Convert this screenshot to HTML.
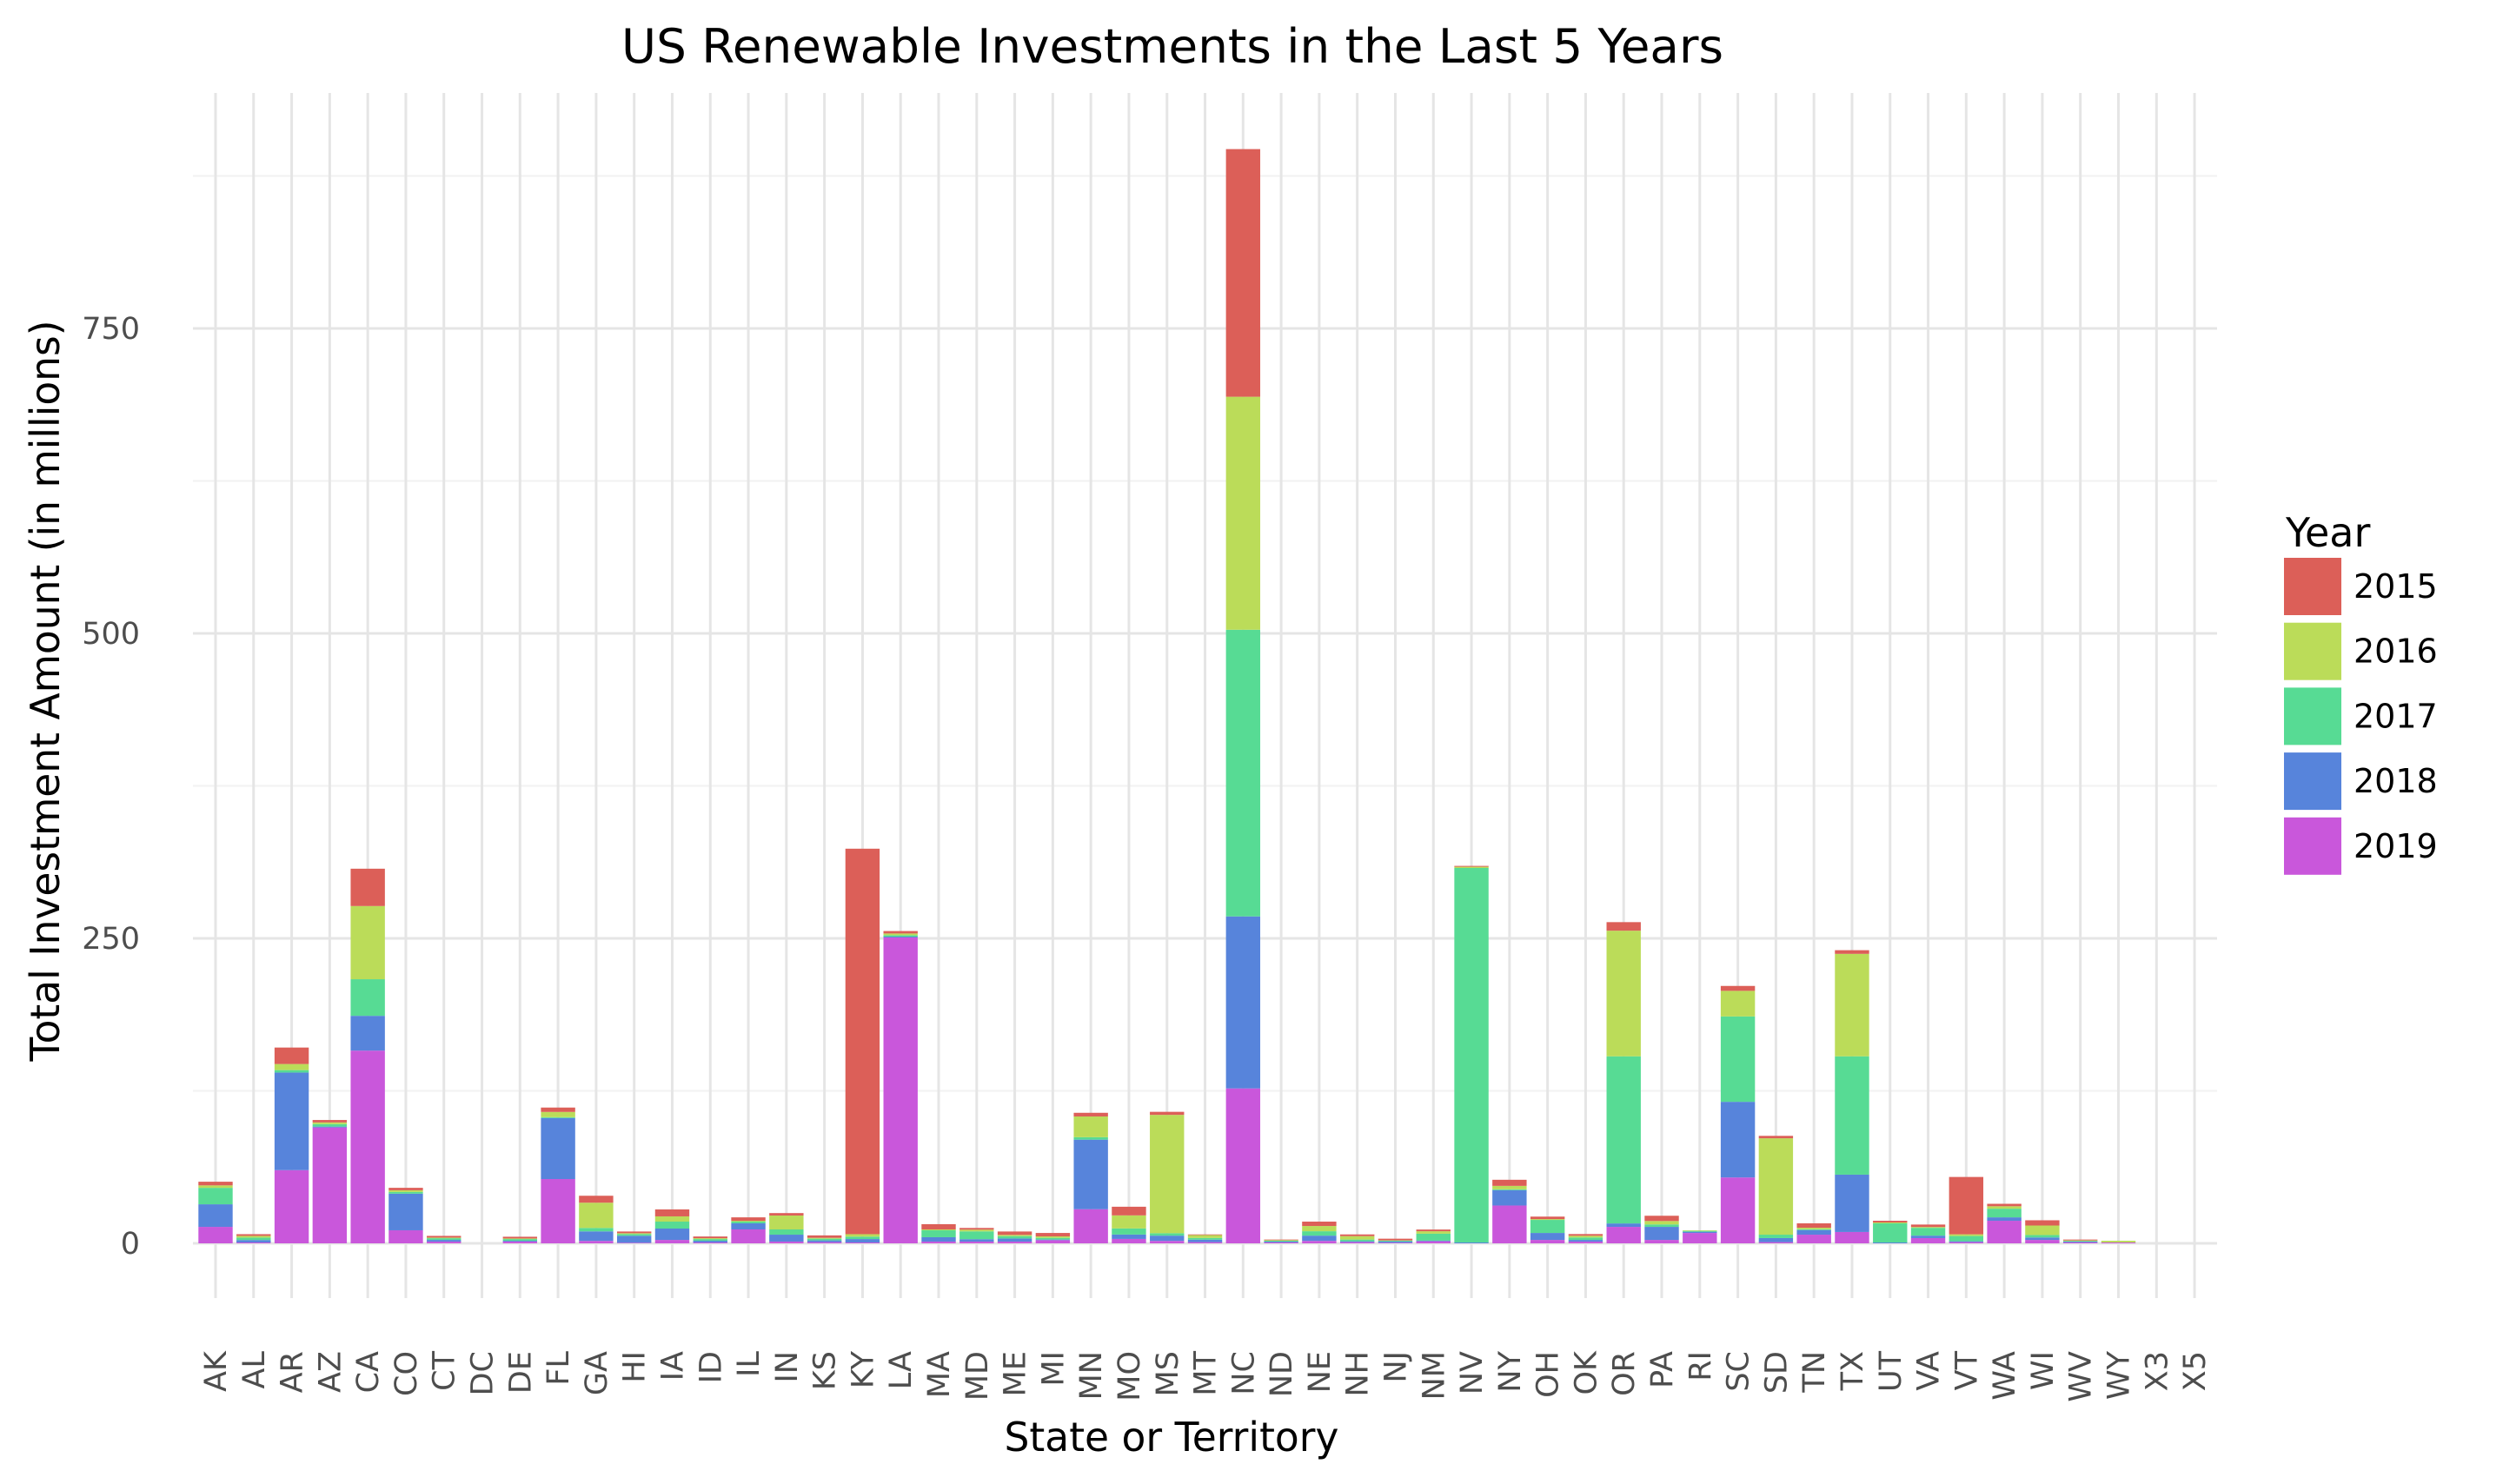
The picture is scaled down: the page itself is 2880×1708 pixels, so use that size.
<!DOCTYPE html>
<html><head><meta charset="utf-8"><style>
html,body{margin:0;padding:0;background:#fff}
svg{display:block;font-family:"DejaVu Sans","Liberation Sans",sans-serif}
</style></head><body>
<svg id="chart" width="2880" height="1708" viewBox="0 0 2880 1708" xmlns="http://www.w3.org/2000/svg">
<rect width="2880" height="1708" fill="#fff"/>
<g id="grid"></g>
<g id="bars"></g>
<g id="xticks"></g>
<g id="yticks"></g>
<text x="1349" y="72" font-size="54" textLength="1268" lengthAdjust="spacingAndGlyphs" text-anchor="middle" fill="#000">US Renewable Investments in the Last 5 Years</text>
<text x="1348" y="1670" font-size="46" textLength="385" lengthAdjust="spacingAndGlyphs" text-anchor="middle" fill="#000">State or Territory</text>
<text transform="translate(68,795) rotate(-90)" font-size="46" textLength="853" lengthAdjust="spacingAndGlyphs" text-anchor="middle" fill="#000">Total Investment Amount (in millions)</text>
<g id="legend">
<text x="2630" y="629" font-size="46" fill="#000">Year</text>
</g>
</svg>
<script>
const categories = ["AK","AL","AR","AZ","CA","CO","CT","DC","DE","FL","GA","HI","IA","ID","IL","IN","KS","KY","LA","MA","MD","ME","MI","MN","MO","MS","MT","NC","ND","NE","NH","NJ","NM","NV","NY","OH","OK","OR","PA","RI","SC","SD","TN","TX","UT","VA","VT","WA","WI","WV","WY","X3","X5"];
const years = ["2015","2016","2017","2018","2019"];
const colors = ["#DC5F58","#BBDC59","#57DB94","#5784DB","#C957DB"];
const v2019 = [13.5,0.7,60,95,158,10.7,1.4,0,1.4,52.7,2,0.5,2.8,0.7,11.4,1.4,1,0.7,250.7,1.4,1.4,1.4,2.6,28,3.6,2,1,127,0.7,2,1,0.5,1.7,0,31,2.8,1.4,13.5,2.8,8.5,54,1,7.1,9.3,0,4.3,1,18.5,2.8,0.7,0.7,0,0];
const v2018 = [18.5,2,80,0.7,28.5,30,1.4,0,0.7,50,7.8,5.7,9.3,1.4,5,5.7,1.4,2.8,0.7,3.6,2,2.6,0.5,57,3.6,4.3,2,141,0.7,4.3,0.7,1,0.5,0.7,12.6,5.7,1.4,2.8,10.7,1,62,3.3,3.8,47,0.7,2,0.7,2.8,2,0.7,0,0,0];
const v2017 = [13.5,2,2,2,30,1.4,1.4,0,1.4,0.7,2.8,1.4,5.7,1.4,1.4,4.3,1.4,2,1.2,5.7,6.4,1.9,1.4,2,5,2,1.4,235,0.7,3.6,1.4,0.7,5.7,307,0.7,10.7,2,137,2,0.7,70,2.8,0.7,97,15.7,6.4,4.3,7.1,2,0.5,0,0,0];
const v2016 = [2,1.4,5,1.4,60,1.4,0.5,0,0.5,4.3,20.7,0.7,4.3,0.7,0.7,11.4,0.7,2,1.4,0.7,1.4,1,1.2,17,10.7,97,2.4,191,0.5,4.3,2.8,0.2,2,1,2.8,0.7,1.4,103,2.8,0.5,21,79,1.2,84,0.7,0.7,1.4,2,7.8,0.5,1.4,0,0];
const v2015 = [3,1.4,13.5,2,30.6,2,1.4,0,1.4,3.6,5.7,1.4,5.7,1.4,2.8,2,2,316,2,4.3,1.4,2.8,2.8,3,7.1,2.5,0.5,203,0.5,3.6,1.4,1.4,1.4,0.7,5,2,1.4,7,4.3,0,4,2,3.6,3,1.4,2,47,2,4.3,0.7,0,0,0];
const yTicks = [0,250,500,750];
const yMinor = [125,375,625,875];

const NS = "http://www.w3.org/2000/svg";
const x0 = 248, step = 43.79, barW = 39.4;
const panel = {left:222, right:2551, top:107, bottom:1494};
const yZero = 1431, pxPerUnit = 1.404;
function xScale(i){ return x0 + i*step; }
function yScale(v){ return yZero - v*pxPerUnit; }
function mk(tag, attrs){ const e=document.createElementNS(NS,tag); for(const k in attrs) e.setAttribute(k,attrs[k]); return e; }

const grid = document.getElementById('grid');
yMinor.forEach(t=>{
  const l = mk('line',{x1:panel.left,x2:panel.right,y1:yScale(t),y2:yScale(t),stroke:'#F2F2F2','stroke-width':2});
  
  
  grid.appendChild(l);
});
yTicks.forEach(t=>{
  const l = mk('line',{x1:panel.left,x2:panel.right,y1:yScale(t),y2:yScale(t),stroke:'#E5E5E5','stroke-width':3});
  
  
  grid.appendChild(l);
});
categories.forEach((c,i)=>{
  const l = mk('line',{x1:xScale(i),x2:xScale(i),y1:panel.top,y2:panel.bottom,stroke:'#E5E5E5','stroke-width':3});
  
  
  grid.appendChild(l);
});

const bars = document.getElementById('bars');
const series = [v2019, v2018, v2017, v2016, v2015];
const seriesColor = [colors[4],colors[3],colors[2],colors[1],colors[0]];
const seriesYear = [years[4],years[3],years[2],years[1],years[0]];
categories.forEach((c,i)=>{
  let cum = 0;
  series.forEach((s,k)=>{
    const v = s[i];
    if(v>0){
      const r = mk('rect',{x:xScale(i)-barW/2,y:yScale(cum+v),width:barW,height:v*pxPerUnit,fill:seriesColor[k]});
      
      
      bars.appendChild(r);
    }
    cum += v;
  });
});

const xt = document.getElementById('xticks');
categories.forEach((c,i)=>{
  const t = mk('text',{transform:'translate('+(xScale(i)+12)+',1555) rotate(-90)','font-size':35,fill:'#4D4D4D','text-anchor':'end'});
  t.textContent = c;
  
  
  xt.appendChild(t);
});
const yt = document.getElementById('yticks');
yTicks.forEach(v=>{
  const t = mk('text',{x:161,y:yScale(v)+12,'font-size':35,fill:'#4D4D4D','text-anchor':'end'});
  t.textContent = String(v);
  
  
  yt.appendChild(t);
});

const lg = document.getElementById('legend');
years.forEach((y,i)=>{
  const top = 642 + i*74.7;
  const r = mk('rect',{x:2628,y:top,width:66,height:66,fill:colors[i]});
  
  
  lg.appendChild(r);
  const t = mk('text',{x:2708,y:top+46,'font-size':38,fill:'#000'});
  t.textContent = y;
  
  
  lg.appendChild(t);
});
</script>
</body></html>
